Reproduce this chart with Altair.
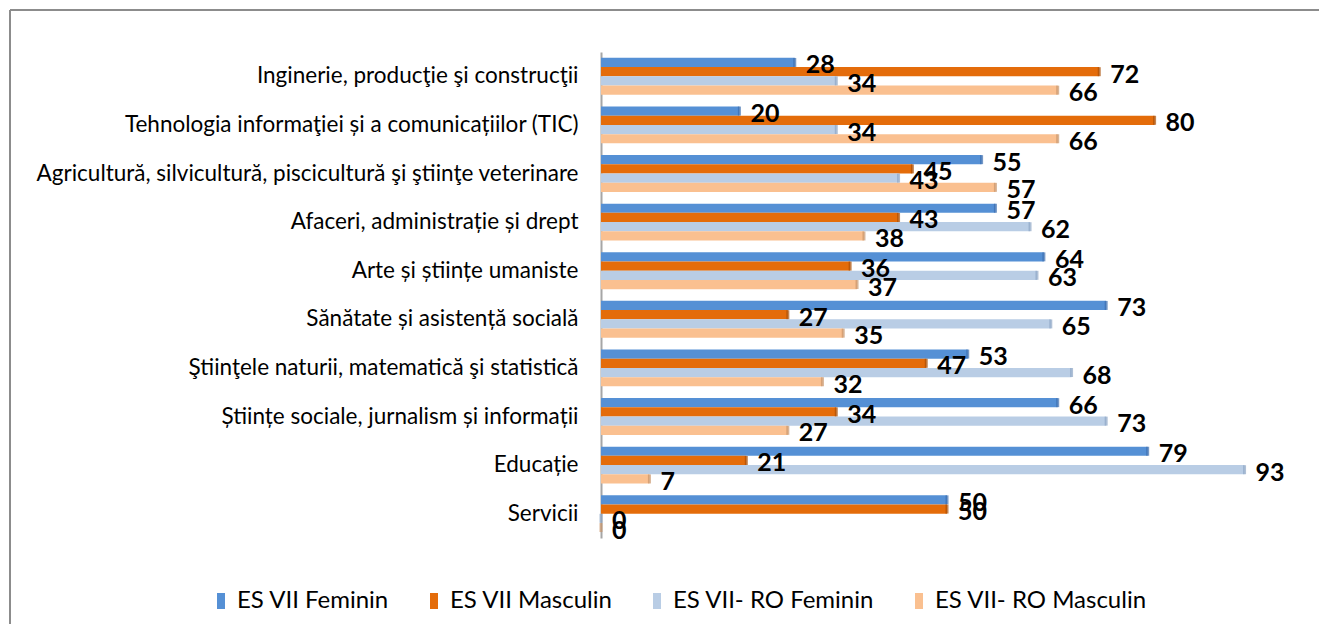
import altair as alt
import pandas as pd

categories = [
    "Inginerie, producţie şi construcţii",
    "Tehnologia informaţiei și a comunicațiilor (TIC)",
    "Agricultură, silvicultură, piscicultură şi ştiinţe veterinare",
    "Afaceri, administrație și drept",
    "Arte și științe umaniste",
    "Sănătate și asistență socială",
    "Ştiinţele naturii, matematică şi statistică",
    "Științe sociale, jurnalism și informații",
    "Educație",
    "Servicii",
]
series = ["ES VII Feminin", "ES VII Masculin", "ES VII- RO Feminin", "ES VII- RO Masculin"]
es_fem = [28, 20, 55, 57, 64, 73, 53, 66, 79, 50]
es_masc = [72, 80, 45, 43, 36, 27, 47, 34, 21, 50]
ro_fem = [34, 34, 43, 62, 63, 65, 68, 73, 93, 0]
ro_masc = [66, 66, 57, 38, 37, 35, 32, 27, 7, 0]
colors = ["#5590D5", "#E46C0A", "#B9CDE5", "#FAC090"]
dark_colors = ["#3A6CAE", "#A94F06", "#8DA5C4", "#C8946A"]

rows = []
for i, c in enumerate(categories):
    for s, vals in zip(series, [es_fem, es_masc, ro_fem, ro_masc]):
        rows.append({"cat": c, "series": s, "value": vals[i]})
df = pd.DataFrame(rows)

FONT = "Lato"
W, H = 692, 486

y_enc = alt.Y("cat:N", sort=categories, title=None,
              scale=alt.Scale(paddingInner=0.24, paddingOuter=0.12),
              axis=alt.Axis(labelFont=FONT, labelFontSize=22.5, labelColor="#000",
                            labelPadding=23, ticks=False, domainColor="#a6a6a6",
                            domainWidth=2, labelLimit=800))
x_enc = alt.X("value:Q", scale=alt.Scale(domain=[0, 100]), axis=None)
yoff = alt.YOffset("series:N", sort=series, scale=alt.Scale(paddingInner=0, paddingOuter=0))

base = alt.Chart(df)

bars = base.mark_bar().encode(
    y=y_enc, x=x_enc, yOffset=yoff,
    color=alt.Color("series:N", sort=series,
                    scale=alt.Scale(domain=series, range=colors),
                    legend=alt.Legend(title=None, orient="none", legendX=-392, legendY=537,
                                      direction="horizontal", columns=4, columnPadding=32,
                                      labelFont=FONT, labelFontSize=24, labelColor="#000",
                                      labelLimit=400,
                                      symbolType="M-0.5,-1L0.5,-1L0.5,1L-0.5,1Z",
                                      symbolSize=256, symbolStrokeWidth=0, labelOffset=4,
                                      padding=0)),
)

caps = base.mark_tick(thickness=3, size=9).encode(
    y=y_enc, x=x_enc, yOffset=yoff,
    color=alt.Color("series:N", sort=series,
                    scale=alt.Scale(domain=series, range=dark_colors), legend=None),
)

labels = base.mark_text(align="left", baseline="middle", dx=11, dy=3,
                        font=FONT, fontSize=25, fontWeight="bold", color="#000").encode(
    y=y_enc, x=x_enc, yOffset=yoff, text="value:Q")

border_top = alt.Chart(df).mark_rule(color="#8c8c8c", strokeWidth=2).encode(
    x=alt.value(-591), x2=alt.value(720), y=alt.value(-42))
border_left = alt.Chart(df).mark_rule(color="#8c8c8c", strokeWidth=2).encode(
    x=alt.value(-591), y=alt.value(-42), y2=alt.value(580))

chart = alt.layer(bars, caps, labels, border_top, border_left).resolve_scale(
    color="independent"
).properties(
    width=W, height=H,
    autosize=alt.AutoSizeParams(type="none"),
    padding={"left": 593, "top": 44, "right": 26, "bottom": 86},
).configure(background="white").configure_view(stroke=None)

chart.save("out.html", embed_options={"renderer": "svg", "actions": False})
